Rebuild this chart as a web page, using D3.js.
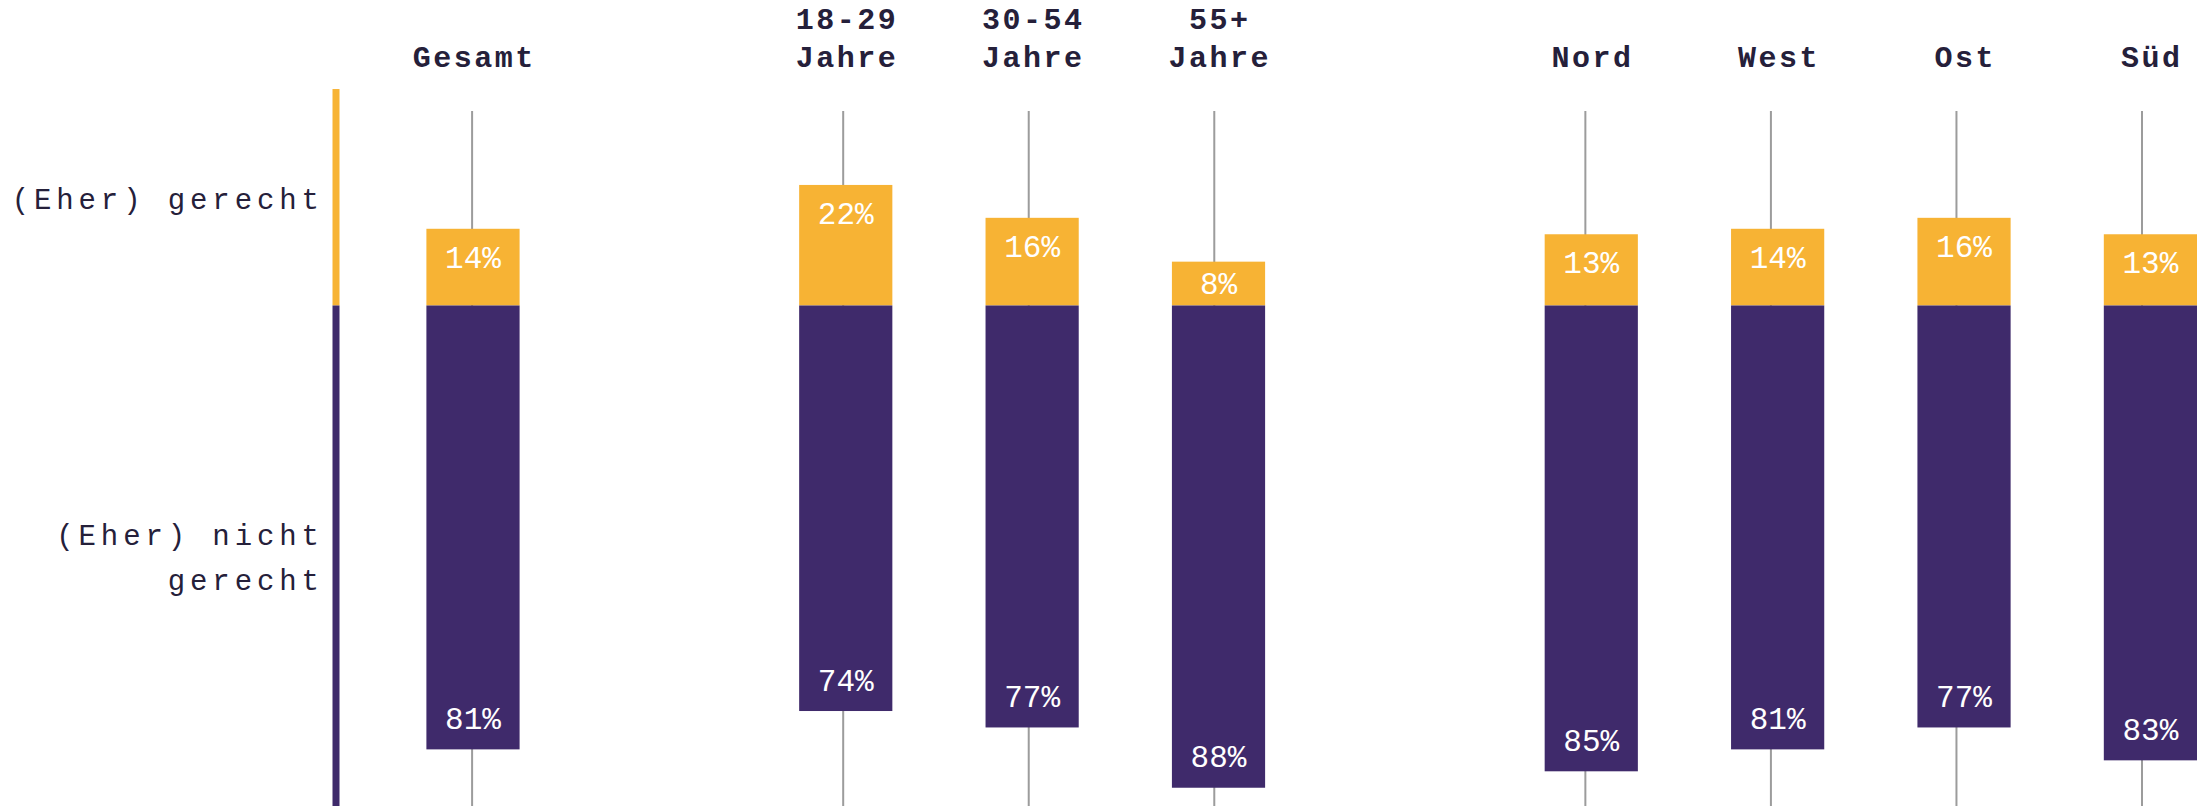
<!DOCTYPE html>
<html>
<head>
<meta charset="utf-8">
<script src="https://cdn.jsdelivr.net/npm/d3@7"></script>
<style>
  body { margin: 0; background: #fff; }
  svg { display: block; }
</style>
</head>
<body>
<script>
var width = 2206;
var height = 806;

// survey answers per category, in percent
var categories = ["Gesamt", "18-29 Jahre", "30-54 Jahre", "55+ Jahre", "Nord", "West", "Ost", "Süd"];
var categoryGroups = ["Gesamt", "Alter", "Alter", "Alter", "Region", "Region", "Region", "Region"];
var gerecht = [14, 22, 16, 8, 13, 14, 16, 13];
var nichtGerecht = [81, 74, 77, 88, 85, 81, 77, 83];
var seriesLabels = [["(Eher) gerecht"], ["(Eher) nicht", "gerecht"]];

var yellow = "#f7b334";
var purple = "#3f2a6b";
var ink = "#25203a";

var svg = d3.select("body")
    .append("svg")
    .attr("width", width)
    .attr("height", height);

// one empty slot between the groups
var slots = [];
categories.forEach(function(c, i) {
    if (i > 0 && categoryGroups[i] !== categoryGroups[i - 1]) slots.push("gap" + i);
    slots.push(c);
});

var xBar = d3.scaleBand()
    .domain(slots)
    .range([426.4, 2197])
    .paddingInner(0.5)
    .paddingOuter(0);

var xLine = d3.scalePoint()
    .domain(slots)
    .range([472.1, 2142]);

// positive = gerecht (up), negative = nicht gerecht (down)
var y = d3.scaleLinear()
    .domain([-100, 0])
    .range([305.5 + 548, 305.5]);

var rows = categories.map(function(c, i) {
    return { name: c, up: gerecht[i], down: nichtGerecht[i] };
});

// left axis, split by answer
svg.append("rect")
    .attr("x", 332.5).attr("width", 7)
    .attr("y", y(39.5)).attr("height", y(0) - y(39.5))
    .attr("fill", yellow);
svg.append("rect")
    .attr("x", 332.5).attr("width", 7)
    .attr("y", y(0)).attr("height", height - y(0))
    .attr("fill", purple);

var sideMid = [(y(39.5) + y(0)) / 2 + 12, (y(0) + height) / 2 - 10.75];
seriesLabels.forEach(function(lines, k) {
    var t = svg.append("text")
        .attr("text-anchor", "end")
        .attr("font-family", "Liberation Mono, monospace")
        .attr("font-size", "29px")
        .attr("letter-spacing", "4.9px")
        .attr("fill", ink);
    lines.forEach(function(l, j) {
        t.append("tspan")
            .attr("x", 319 + 4.9)
            .attr("y", sideMid[k] + j * 45)
            .text(l);
    });
});

// thin guide lines behind the bars
svg.selectAll("line.guide")
    .data(rows)
    .enter()
    .append("line")
    .attr("class", "guide")
    .attr("x1", function(d) { return xLine(d.name); })
    .attr("x2", function(d) { return xLine(d.name); })
    .attr("y1", y(35.5))
    .attr("y2", height)
    .attr("stroke", "#9c9c9c")
    .attr("stroke-width", 2);

svg.selectAll("rect.up")
    .data(rows)
    .enter()
    .append("rect")
    .attr("class", "up")
    .attr("x", function(d) { return xBar(d.name); })
    .attr("width", xBar.bandwidth())
    .attr("y", function(d) { return y(d.up); })
    .attr("height", function(d) { return y(0) - y(d.up); })
    .attr("fill", yellow);

svg.selectAll("rect.down")
    .data(rows)
    .enter()
    .append("rect")
    .attr("class", "down")
    .attr("x", function(d) { return xBar(d.name); })
    .attr("width", xBar.bandwidth())
    .attr("y", y(0))
    .attr("height", function(d) { return y(-d.down) - y(0); })
    .attr("fill", purple);

// value labels
svg.selectAll("text.upval")
    .data(rows)
    .enter()
    .append("text")
    .attr("class", "upval")
    .attr("x", function(d) { return xBar(d.name) + xBar.bandwidth() / 2; })
    .attr("y", function(d) { return Math.min(y(d.up) + 39, y(0) - 11.5); })
    .attr("text-anchor", "middle")
    .attr("font-family", "Liberation Mono, monospace")
    .attr("font-size", "31px")
    .attr("fill", "#fff")
    .text(function(d) { return d.up + "%"; });

svg.selectAll("text.downval")
    .data(rows)
    .enter()
    .append("text")
    .attr("class", "downval")
    .attr("x", function(d) { return xBar(d.name) + xBar.bandwidth() / 2; })
    .attr("y", function(d) { return y(-d.down) - 20.5; })
    .attr("text-anchor", "middle")
    .attr("font-family", "Liberation Mono, monospace")
    .attr("font-size", "31px")
    .attr("fill", "#fff")
    .text(function(d) { return d.down + "%"; });

// column headers, bottom aligned
svg.selectAll("text.head")
    .data(rows)
    .enter()
    .append("text")
    .attr("class", "head")
    .attr("text-anchor", "middle")
    .attr("font-family", "Liberation Mono, monospace")
    .attr("font-weight", "bold")
    .attr("font-size", "30px")
    .attr("letter-spacing", "2.5px")
    .attr("fill", ink)
    .each(function(d) {
        var words = d.name.split(" ");
        var cx = xBar(d.name) + xBar.bandwidth() / 2 + 1.25;
        var sel = d3.select(this);
        words.forEach(function(w, j) {
            sel.append("tspan")
                .attr("x", cx)
                .attr("y", 66.7 - (words.length - 1 - j) * 37.4)
                .text(w);
        });
    });
</script>
</body>
</html>
